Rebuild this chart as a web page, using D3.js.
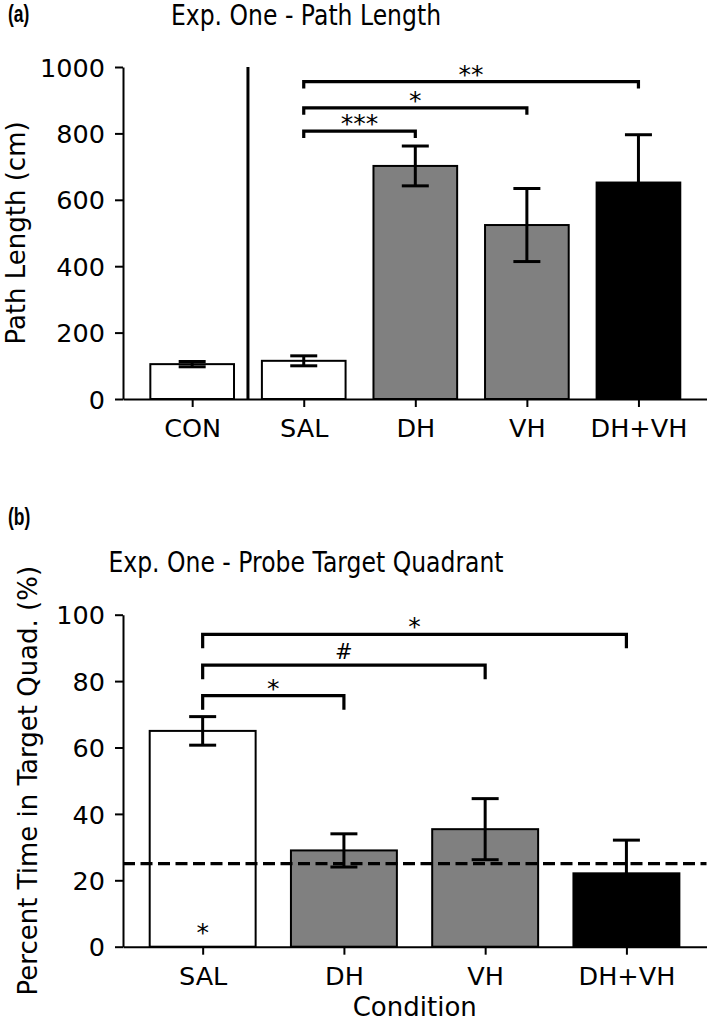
<!DOCTYPE html>
<html><head><meta charset="utf-8">
<script src="https://cdn.jsdelivr.net/npm/d3@7/dist/d3.min.js"></script>
<style>
body{margin:0;background:#fff;}
svg{display:block;}
text{font-family:"DejaVu Sans",sans-serif;fill:#000;}
.plabel{font-family:"Liberation Sans",Arial,sans-serif;font-weight:bold;}
</style></head>
<body>
<svg id="chart" width="709" height="1024"></svg>
<script>
// ---------- Data ----------
// Panel (a): Path Length
const catsA = ["CON", "SAL", "DH", "VH", "DH+VH"];
const meansA = [105, 115, 702, 524, 652];
const errA = [8, 15, 60, 110, 144];
const fillsA = ["#ffffff", "#ffffff", "#808080", "#808080", "#000000"];
const ticksA = [0, 200, 400, 600, 800, 1000];
const sigA = [ // from SAL (index 1) to target
  {from: 1, to: 2, y: 807, label: "***"},
  {from: 1, to: 3, y: 877, label: "*"},
  {from: 1, to: 4, y: 956, label: "**"}
];

// Panel (b): Probe Target Quadrant
const catsB = ["SAL", "DH", "VH", "DH+VH"];
const meansB = [65, 29, 35.4, 22.1];
const errB = [4.3, 5, 9.2, 10];
const fillsB = ["#ffffff", "#808080", "#808080", "#000000"];
const ticksB = [0, 20, 40, 60, 80, 100];
const chanceB = 25;
const sigB = [
  {from: 0, to: 1, y: 75.6, label: "*"},
  {from: 0, to: 2, y: 84.8, label: "#"},
  {from: 0, to: 3, y: 94.1, label: "*"}
];
const innerStarB = {index: 0, y: 3.2, label: "*"};

// ---------- Drawing ----------
const svg = d3.select("#chart");

function panel(opt) {
  const g = svg.append("g");
  const x = d3.scaleLinear().domain(opt.xdom).range([123, 706.5]);
  const y = d3.scaleLinear().domain(opt.ydom).range(opt.yrange);
  const bw = x(0.75) - x(0);

  // bars
  g.selectAll("rect.bar").data(opt.means).enter().append("rect")
    .attr("x", (d, i) => x(i) - bw / 2)
    .attr("y", d => y(d))
    .attr("width", bw)
    .attr("height", d => y(0) - y(d))
    .attr("fill", (d, i) => opt.fills[i])
    .attr("stroke", "#000").attr("stroke-width", 2);

  // chance line
  if (opt.chance !== undefined) {
    g.append("line")
      .attr("x1", x.range()[0]).attr("x2", x.range()[1])
      .attr("y1", y(opt.chance)).attr("y2", y(opt.chance))
      .attr("stroke", "#000").attr("stroke-width", 3.2)
      .attr("stroke-dasharray", "12,5.5");
  }

  // error bars
  const cap = 13.5;
  opt.means.forEach((m, i) => {
    const e = opt.errs[i];
    const cx = x(i);
    g.append("line").attr("x1", cx).attr("x2", cx)
      .attr("y1", y(m - e)).attr("y2", y(m + e))
      .attr("stroke", "#000").attr("stroke-width", 3);
    [m - e, m + e].forEach(v => {
      g.append("line").attr("x1", cx - cap).attr("x2", cx + cap)
        .attr("y1", y(v)).attr("y2", y(v))
        .attr("stroke", "#000").attr("stroke-width", 3);
    });
  });

  // separator
  if (opt.separator !== undefined) {
    g.append("line")
      .attr("x1", x(opt.separator)).attr("x2", x(opt.separator))
      .attr("y1", y(opt.ydom[1])).attr("y2", y(0))
      .attr("stroke", "#000").attr("stroke-width", 3);
  }

  // axes
  const yAxis = d3.axisLeft(y).tickValues(opt.yticks).tickFormat(d3.format("d"))
    .tickSize(8).tickPadding(10).tickSizeOuter(0);
  const ya = g.append("g").attr("transform", `translate(${x.range()[0]},0)`).call(yAxis);
  const xAxis = d3.axisBottom(x).tickValues(d3.range(opt.cats.length))
    .tickFormat(i => opt.cats[i]).tickSize(8).tickPadding(12).tickSizeOuter(0);
  const xa = g.append("g").attr("transform", `translate(0,${y(0)})`).call(xAxis);
  [ya, xa].forEach(a => {
    a.select(".domain").attr("stroke", "#000").attr("stroke-width", 2);
    a.selectAll(".tick line").attr("stroke", "#000").attr("stroke-width", 2);
    a.selectAll(".tick text").style("font-family", "DejaVu Sans").style("font-size", "25.5px").attr("fill", "#000");
  });
  ya.selectAll(".tick text").attr("dy", "0.36em");
  xa.selectAll(".tick text").attr("dy", "0.72em");

  // significance brackets
  opt.sig.forEach(s => {
    const x1 = x(s.from), x2 = x(s.to), yy = y(s.y);
    g.append("path")
      .attr("d", `M${x1},${yy + opt.leg}V${yy}H${x2}V${yy + opt.leg}`)
      .attr("fill", "none").attr("stroke", "#000").attr("stroke-width", 3.2);
    g.append("text").attr("x", (x1 + x2) / 2)
      .attr("y", s.label === "#" ? yy - 6.5 : yy + 1)
      .attr("text-anchor", "middle")
      .style("font-size", s.label === "#" ? "21px" : "25px")
      .text(s.label);
  });

  if (opt.inner) {
    g.append("text").attr("x", x(opt.inner.index)).attr("y", y(opt.inner.y) + 5)
      .attr("text-anchor", "middle").style("font-size", "25px").text(opt.inner.label);
  }

  // titles / labels
  svg.append("text").attr("transform", `translate(306,${opt.titleY}) scale(0.84,1)`)
    .attr("text-anchor", "middle").style("font-size", "28px").text(opt.title);
  svg.append("text").attr("class", "plabel")
    .attr("transform", `translate(8,${opt.plabelY}) scale(0.76,1)`)
    .style("font-size", "23px").text(opt.plabel);
  const ymid = (y.range()[0] + y.range()[1]) / 2;
  svg.append("text").attr("transform", `translate(${opt.ylabelX},${ymid}) rotate(-90)`)
    .attr("text-anchor", "middle").style("font-size", "26px").text(opt.ylabel);
  if (opt.xlabel) {
    svg.append("text").attr("x", (x.range()[0] + x.range()[1]) / 2).attr("y", 1016)
      .attr("text-anchor", "middle").style("font-size", "26px").text(opt.xlabel);
  }
}

panel({
  cats: catsA, means: meansA, errs: errA, fills: fillsA, yticks: ticksA, sig: sigA,
  xdom: [-0.62, 4.61], ydom: [0, 1000], yrange: [399, 67], separator: 0.5, leg: 7,
  title: "Exp. One - Path Length", titleY: 25, plabel: "(a)", plabelY: 22,
  ylabel: "Path Length (cm)", ylabelX: 25
});

panel({
  cats: catsB, means: meansB, errs: errB, fills: fillsB, yticks: ticksB, sig: sigB,
  xdom: [-0.564, 3.567], ydom: [0, 100], yrange: [946.7, 614.7], chance: chanceB, leg: 14,
  inner: innerStarB,
  title: "Exp. One - Probe Target Quadrant", titleY: 572, plabel: "(b)", plabelY: 525,
  ylabel: "Percent Time in Target Quad. (%)", ylabelX: 37, xlabel: "Condition"
});
</script>
</body></html>
